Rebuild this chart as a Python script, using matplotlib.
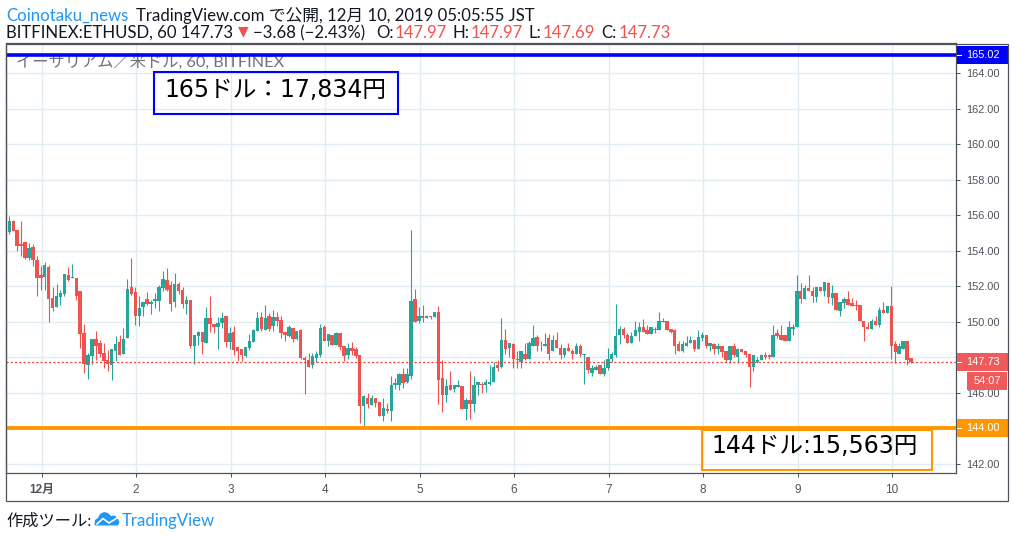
import matplotlib
matplotlib.use("Agg")
from matplotlib import pyplot as plt
from matplotlib.patches import Polygon, Rectangle
from matplotlib.transforms import Affine2D, blended_transform_factory

# ETHUSD 60 min candles
highs = [
    155.96, 155.74, 155.17, 155.68, 154.50, 154.44, 154.38, 153.71, 153.14, 153.37,
    153.20, 151.96, 152.13, 151.79, 152.69, 153.09, 153.26, 152.47, 151.73, 149.87,
    148.24, 149.03, 149.48, 148.97, 148.80, 148.41, 148.46, 149.19, 149.25, 149.64,
    152.41, 153.59, 151.96, 151.45, 151.11, 151.68, 151.22, 151.62, 152.07, 152.86,
    153.03, 152.30, 152.75, 152.24, 151.96, 151.45, 151.22, 149.25, 149.48, 149.42,
    150.83, 151.45, 149.87, 150.27, 150.54, 150.32, 149.70, 149.76, 148.57, 148.49,
    148.60, 149.34, 149.62, 150.58, 150.58, 150.97, 150.52, 150.69, 150.58, 150.35,
    149.45, 149.85, 149.68, 149.51, 149.62, 148.10, 148.27, 148.27, 148.38, 149.90,
    149.85, 149.34, 149.28, 149.45, 149.39, 148.66, 148.83, 148.89, 148.60, 148.15,
    145.90, 146.01, 145.90, 145.73, 145.50, 145.73, 145.45, 146.97, 146.86, 147.14,
    147.42, 147.42, 155.20, 151.88, 150.86, 150.97, 150.41, 150.35, 150.58, 150.92,
    147.87, 146.80, 147.25, 146.46, 146.74, 146.41, 145.69, 147.21, 146.93, 146.59,
    146.59, 146.76, 147.60, 147.72, 147.83, 150.20, 149.58, 148.79, 148.79, 148.39,
    148.34, 148.79, 148.90, 149.80, 149.24, 148.90, 149.35, 149.30, 149.24, 149.46,
    148.73, 148.56, 148.79, 148.45, 148.79, 148.73, 148.22, 148.05, 147.60, 147.60,
    147.60, 147.83, 148.51, 148.28, 150.99, 149.75, 149.69, 149.35, 149.41, 150.03,
    149.97, 150.14, 149.80, 149.69, 149.69, 150.54, 150.20, 150.08, 149.63, 149.58,
    148.90, 148.90, 149.18, 149.18, 148.96, 149.52, 149.41, 149.29, 148.84, 148.79,
    148.84, 148.67, 148.39, 148.67, 148.79, 148.56, 148.50, 148.39, 148.22, 148.11,
    148.00, 148.17, 148.28, 148.17, 149.80, 149.58, 149.80, 149.24, 150.03, 149.86,
    152.62, 152.17, 152.06, 152.62, 151.94, 151.94, 151.94, 152.23, 152.23, 152.06,
    151.61, 151.10, 151.38, 151.72, 151.32, 151.21, 150.93, 150.08, 149.97, 150.14,
    150.31, 150.82, 151.15, 150.87, 152.00, 148.90, 148.79, 148.90, 148.90, 147.97,
]
body_tops = [
    155.68, 155.66, 155.17, 154.38, 154.50, 154.16, 154.21, 153.48, 152.65, 153.20,
    153.09, 151.34, 151.45, 151.62, 152.69, 152.65, 152.52, 152.47, 151.73, 149.36,
    148.13, 149.03, 149.03, 148.80, 148.24, 147.84, 148.46, 148.74, 148.85, 149.03,
    151.84, 151.96, 151.68, 150.77, 151.11, 151.28, 151.11, 151.28, 151.96, 152.41,
    152.35, 152.07, 152.13, 152.13, 151.79, 151.22, 151.22, 149.25, 149.42, 149.42,
    150.20, 150.20, 149.87, 149.93, 150.20, 150.32, 149.36, 149.42, 148.57, 148.49,
    148.60, 148.94, 149.56, 150.24, 150.30, 150.24, 150.35, 150.30, 150.30, 150.13,
    149.45, 149.73, 149.68, 149.51, 149.56, 147.98, 147.87, 148.10, 148.21, 149.68,
    149.73, 149.34, 149.28, 149.39, 149.39, 148.66, 148.55, 148.55, 148.49, 148.15,
    145.84, 145.73, 145.73, 145.73, 145.50, 145.17, 145.11, 146.46, 146.57, 147.08,
    147.08, 147.08, 151.20, 151.31, 150.35, 150.35, 150.35, 150.35, 150.58, 150.58,
    146.86, 146.41, 146.46, 146.46, 146.46, 146.41, 145.63, 145.63, 146.42, 146.59,
    146.53, 146.64, 146.64, 147.49, 147.60, 148.96, 148.96, 148.79, 148.73, 147.89,
    148.34, 148.22, 148.79, 149.07, 149.13, 148.67, 148.73, 149.07, 149.01, 149.01,
    148.56, 148.56, 148.56, 148.39, 148.62, 148.62, 148.22, 148.00, 147.38, 147.49,
    147.55, 147.38, 147.94, 148.17, 149.18, 149.63, 149.63, 149.24, 149.18, 149.52,
    149.69, 149.69, 149.52, 149.69, 149.63, 150.03, 150.03, 150.03, 149.63, 149.52,
    148.73, 148.73, 148.84, 148.96, 148.96, 149.13, 149.29, 149.29, 148.79, 148.73,
    148.67, 148.67, 148.39, 148.67, 148.67, 148.45, 148.50, 148.39, 148.17, 148.11,
    147.88, 148.11, 148.11, 148.11, 149.29, 149.35, 149.24, 149.24, 149.74, 149.74,
    151.77, 151.77, 151.89, 151.89, 151.77, 151.94, 151.94, 152.23, 152.17, 151.61,
    151.61, 151.10, 151.27, 151.27, 151.04, 150.93, 150.93, 150.08, 149.74, 150.08,
    150.08, 150.70, 150.70, 150.87, 150.87, 148.73, 148.62, 148.90, 148.90, 147.97,
]
body_bottoms = [
    155.08, 155.12, 154.29, 154.29, 153.59, 153.59, 153.48, 152.47, 152.47, 152.52,
    151.28, 150.77, 150.83, 151.40, 151.56, 152.35, 152.47, 151.45, 149.31, 147.61,
    147.56, 148.07, 148.63, 148.18, 147.79, 147.62, 147.56, 148.35, 148.13, 148.18,
    149.08, 151.56, 150.32, 150.32, 150.83, 151.00, 151.00, 151.17, 151.17, 151.90,
    151.79, 151.00, 151.11, 151.73, 151.00, 151.00, 148.63, 148.63, 149.19, 148.85,
    148.80, 149.87, 149.70, 149.70, 149.93, 148.85, 148.85, 148.40, 148.35, 148.15,
    148.10, 148.55, 148.89, 149.51, 149.62, 149.56, 149.62, 149.79, 150.07, 149.39,
    149.28, 149.23, 149.06, 149.06, 147.98, 147.87, 147.48, 147.59, 147.98, 148.15,
    148.94, 148.94, 148.72, 148.72, 148.60, 148.10, 148.15, 148.38, 148.10, 145.28,
    145.28, 145.39, 145.33, 145.45, 144.71, 144.71, 145.00, 145.00, 146.46, 146.46,
    146.57, 146.63, 146.97, 150.02, 150.07, 150.24, 150.24, 150.30, 150.30, 146.74,
    145.90, 145.90, 146.18, 146.24, 146.35, 145.11, 145.12, 145.40, 145.40, 146.42,
    146.42, 146.42, 146.53, 146.59, 147.38, 147.49, 148.45, 148.56, 147.89, 147.85,
    147.72, 147.94, 147.94, 148.67, 148.62, 148.62, 148.62, 148.22, 148.34, 148.51,
    148.11, 148.11, 148.39, 148.22, 148.22, 148.17, 148.11, 147.27, 147.15, 147.32,
    147.04, 147.04, 147.38, 147.94, 148.11, 149.24, 149.24, 148.84, 148.84, 149.18,
    149.41, 149.46, 149.30, 149.30, 149.52, 149.52, 149.97, 149.52, 149.41, 148.67,
    148.39, 148.39, 148.67, 148.79, 148.45, 148.45, 149.12, 148.62, 148.62, 148.50,
    148.45, 148.33, 147.83, 147.88, 148.11, 148.05, 148.33, 148.11, 147.49, 147.49,
    147.77, 147.83, 148.05, 148.00, 148.00, 149.18, 149.01, 148.95, 148.95, 149.58,
    149.69, 151.27, 151.27, 151.72, 151.44, 151.38, 151.77, 151.77, 151.38, 151.32,
    150.70, 150.59, 151.04, 150.98, 150.87, 150.89, 150.03, 149.69, 149.63, 149.63,
    149.80, 149.80, 150.48, 150.53, 148.62, 148.28, 148.22, 148.50, 147.88, 147.73,
]
lows = [
    154.95, 155.12, 153.99, 153.71, 153.54, 153.48, 153.14, 151.45, 151.79, 151.79,
    149.98, 150.61, 150.83, 150.94, 151.45, 152.30, 152.47, 151.22, 148.52, 147.11,
    146.77, 147.62, 147.84, 148.01, 147.39, 147.22, 146.71, 147.79, 148.13, 148.18,
    149.08, 151.51, 149.82, 149.76, 150.32, 150.94, 150.44, 150.77, 150.61, 151.73,
    151.73, 150.61, 150.83, 151.56, 150.77, 150.44, 148.52, 147.62, 148.68, 148.18,
    148.80, 149.42, 149.36, 148.46, 149.64, 148.57, 148.46, 148.13, 147.79, 147.82,
    148.04, 148.44, 148.89, 149.51, 149.51, 149.56, 149.51, 149.51, 149.79, 149.11,
    148.94, 149.17, 148.89, 149.00, 147.93, 145.95, 147.48, 147.42, 147.76, 148.04,
    148.94, 148.66, 148.72, 148.72, 148.44, 147.82, 147.93, 148.15, 147.98, 144.32,
    144.09, 145.17, 145.33, 145.22, 144.71, 144.43, 144.88, 144.43, 146.24, 146.18,
    146.29, 146.57, 146.80, 150.02, 149.96, 150.02, 150.24, 150.18, 150.30, 145.39,
    144.94, 145.50, 146.18, 146.07, 146.35, 145.11, 144.50, 144.56, 144.90, 145.91,
    145.97, 146.08, 146.42, 146.59, 147.21, 147.43, 148.22, 148.05, 147.38, 147.38,
    147.38, 147.83, 147.94, 148.67, 148.34, 148.39, 148.62, 147.83, 148.34, 148.51,
    147.89, 148.05, 148.34, 147.94, 148.17, 148.00, 146.48, 147.10, 146.98, 147.27,
    147.04, 146.98, 147.32, 147.77, 148.00, 148.73, 149.07, 148.84, 148.84, 149.18,
    148.90, 149.46, 149.30, 149.30, 149.35, 149.52, 149.97, 149.52, 149.35, 148.17,
    148.39, 148.28, 148.67, 148.79, 148.39, 148.45, 148.90, 148.56, 148.39, 148.17,
    148.17, 148.00, 147.77, 147.66, 148.00, 147.71, 148.33, 148.05, 146.36, 147.26,
    147.66, 147.83, 147.94, 147.94, 148.00, 149.07, 149.01, 148.90, 148.95, 149.24,
    149.69, 151.04, 151.27, 151.72, 151.10, 151.15, 151.72, 151.44, 151.04, 150.93,
    150.70, 150.31, 150.76, 150.98, 150.87, 150.65, 150.03, 148.90, 149.63, 149.58,
    149.80, 149.69, 150.48, 150.48, 147.94, 147.66, 148.17, 148.45, 147.60, 147.69,
]
# G = close above open, R = close below open
directions = (
    "GRRRRGRRRG" "RRGGGRGRRR" "GGRRRRGGRG" "GRRGGRGGGG" "RRGRRGRGGR"
    "GRRGGRGRRR" "GGGGRGRGRR" "RGRGRRRGGG" "RGRGRRGRRR" "GRGRRGRGGG"
    "RGGRGRGRGR" "RGRGGRGRGG" "RGGGRGRGRR" "GRGGRGGRGR" "RGRRGRGRGG"
    "RGGGGGRRGG" "GRRGRGGRRR" "RGGGRGGRGR" "GRRGRGRRRG" "GGRRGRRRGG"
    "GRGRRGRGRG" "RGGRRRRRRG" "RGRGRRGGRR"
)
day_labels = ["12月", "2", "3", "4", "5", "6", "7", "8", "9", "10"]
first_midnight = 8
candles_per_day = 24
price_ticks = [142, 144, 146, 148, 150, 152, 154, 156, 158, 160, 162, 164]
last_price = 147.73
line_blue = 165.02
line_orange = 144.00

RED = "#ef5350"
GREEN = "#26a69a"
BLUE = "#0000ff"
ORANGE = "#ff9800"
GRID = "#e1ecf2"
FRAME = "#50535e"
LINK = "#2196f3"

W, H = 1014, 537
fig = plt.figure(figsize=(W / 100, H / 100), dpi=100)
# pixels of the picture, y going down
px = Affine2D().scale(1, -1).translate(0, H)

ax = fig.add_axes([6 / W, 1 - 472.5 / H, 950 / W, 429.5 / H])
ax.set_xlim(-0.84, 240.43)
ax.set_ylim(141.52, 165.71)

# candles
xs = list(range(len(highs)))
colors = [GREEN if d == "G" else RED for d in directions]
wicks = ax.vlines(xs, lows, highs, colors=colors, lw=0.8, zorder=3)
wicks.set_snap(True)
bodies = ax.bar(xs, [t - b for t, b in zip(body_tops, body_bottoms)], bottom=body_bottoms,
                width=0.86, color=colors, linewidth=0, zorder=4)

# grid and axes
day_ticks = [first_midnight + 0.2 + candles_per_day * i for i in range(len(day_labels))]
ax.set_xticks(day_ticks)
ax.set_xticklabels(day_labels, fontsize=8.5, color=FRAME, family=["Liberation Sans", "Noto Sans CJK JP"])
ax.get_xticklabels()[0].set_fontweight("bold")
covered = [line_orange, 148]  # these two sit under the coloured tags
ax.set_yticks(price_ticks)
ax.set_yticklabels(["" if p in covered else f"{p:.2f}" for p in price_ticks],
                   fontsize=7.9, color=FRAME, family="Liberation Sans")
ax.yaxis.tick_right()
ax.grid(True, color=GRID, lw=1)
ax.set_axisbelow(True)
ax.tick_params(axis="y", length=3, width=0.72, color=FRAME, pad=4)
ax.tick_params(axis="x", length=3, width=0.72, color=FRAME, pad=5)
for s in ax.spines.values():
    s.set_color(FRAME)
    s.set_linewidth(0.9)

# horizontal lines
ax.axhline(line_blue, color=BLUE, lw=2.6, zorder=5)
ax.axhline(line_orange, color=ORANGE, lw=2.8, zorder=5)
ax.axhline(last_price, color="#f44336", lw=0.9, ls=(0, (1.7, 1.7)), zorder=5, snap=True)

# outer frame of the price and time scales
fig.add_artist(Rectangle((6, 43.5), 1001.5, 457, transform=px, fill=False, ec=FRAME, lw=0.9))


# coloured price tags over the scale
scale_x = blended_transform_factory(px, ax.transData)
unit_px = 429.5 / (165.71 - 141.52)


def price_tag(price, color, label):
    half = 9 / unit_px
    ax.add_patch(Rectangle((956.5, price - half), 51, 2 * half, transform=scale_x,
                           color=color, lw=0, clip_on=False, zorder=6))
    ax.plot([956.5, 960.5], [price, price], transform=scale_x, color="white", lw=0.72,
            clip_on=False, zorder=7)
    ax.text(965.7, price, label, transform=scale_x, color="white", fontsize=7.9,
            family="Liberation Sans", va="center", ha="left", zorder=7, clip_on=False)


price_tag(line_blue, BLUE, f"{line_blue:.2f}")
price_tag(line_orange, ORANGE, f"{line_orange:.2f}")
price_tag(last_price, "#f05a5a", f"{last_price:.2f}")
fig.add_artist(Rectangle((967, 372), 40, 18, transform=px, color="#f05a5a", lw=0))
fig.text(987, 381, "54:07", transform=px, color="white", fontsize=7.9, family="Liberation Sans",
         ha="center", va="center")

# watermark
jp = ["Lato", "Noto Sans CJK JP"]
ax.text(16, 62, "イーサリアム／米ドル, 60, BITFINEX", transform=px, color="#6f727c", fontsize=11.7,
        family=jp, va="center", zorder=2)

# hand drawn boxes
note_font = ["DejaVu Sans", "Noto Sans CJK JP"]
fig.add_artist(Rectangle((154, 72), 244, 42, transform=px, fill=False, ec=BLUE, lw=1.5))
fig.text(164, 97, "165ドル：17,834円", transform=px, fontsize=17, color="black",
         family=note_font, va="baseline")
fig.add_artist(Rectangle((702, 430), 230, 40, transform=px, fill=False, ec=ORANGE, lw=1.5))
fig.text(711, 453, "144ドル:15,563円", transform=px, fontsize=17, color="black",
         family=note_font, va="baseline")

# header, two lines of text
head = [
    (6, 21, "Coinotaku_news", LINK),
    (136, 21, "TradingView.com で公開, 12月 10, 2019 05:05:55 JST", "#131722"),
    (6, 38, "BITFINEX:ETHUSD, 60 147.73", "#131722"),
    (253, 38, "−3.68 (−2.43%)", "#131722"),
    (376, 38, "O:", "#131722"),
    (395, 38, "147.97", RED),
    (453, 38, "H:", "#131722"),
    (471, 38, "147.97", RED),
    (529, 38, "L:", "#131722"),
    (543, 38, "147.69", RED),
    (601, 38, "C:", "#131722"),
    (619, 38, "147.73", RED),
]
for x, y, s, c in head:
    fig.text(x, y, s, transform=px, fontsize=12.1, color=c, family=jp, va="baseline")
fig.text(243.5, 31, "▼", transform=px, fontsize=10, color=RED, family="DejaVu Sans", ha="center", va="center")

# footer with logo
fig.text(6, 526, "作成ツール:", transform=px, fontsize=11.7, color="#131722", family=jp, va="baseline")
fig.text(122, 526, "TradingView", transform=px, fontsize=12.1, color=LINK, family=jp, va="baseline")
cloud = [(94.5, 525), (95, 520), (98, 518), (100, 514), (104, 512), (108, 513), (111, 516),
         (115, 515.5), (118, 519), (119.5, 522), (118, 525.5), (96, 525.5)]
fig.add_artist(Polygon(cloud, closed=True, transform=px, color=LINK, lw=0))
fig.add_artist(plt.Line2D([97, 103, 109, 117], [524, 518.5, 523, 518], transform=px, color="white", lw=1.2))

fig.savefig("out.png", dpi=100)
